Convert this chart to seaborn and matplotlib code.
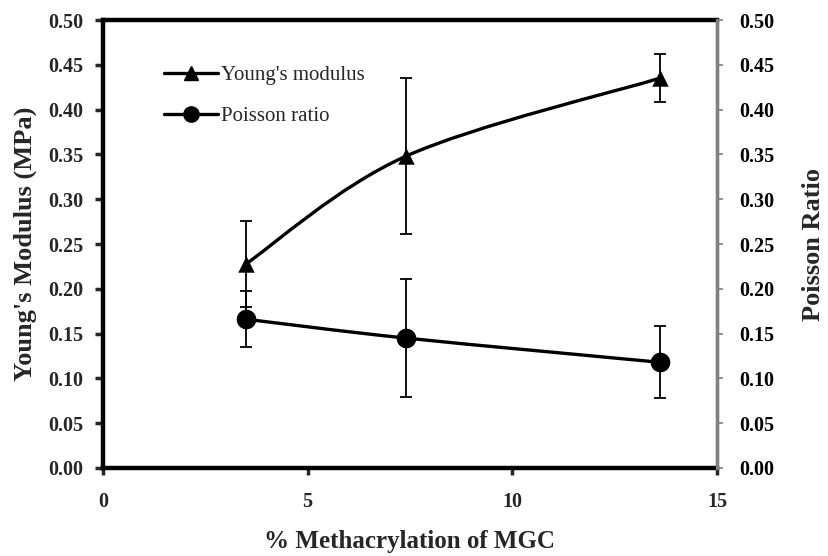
import numpy as np
import matplotlib
matplotlib.use("Agg")
import matplotlib.pyplot as plt
from matplotlib.path import Path
from matplotlib.patches import PathPatch
from matplotlib.lines import Line2D
import seaborn as sns

# Degree of methacrylation (%) and measured properties
methacrylation = [3.5, 7.4, 13.6]
youngs_modulus = [0.228, 0.348, 0.435]
youngs_err = [0.048, 0.087, 0.027]
poisson_ratio = [0.166, 0.145, 0.118]
poisson_err = [0.031, 0.066, 0.040]

x_ticks = [0, 5, 10, 15]
y_ticks = [0.00, 0.05, 0.10, 0.15, 0.20, 0.25, 0.30, 0.35, 0.40, 0.45, 0.50]

sns.set_style("white")
plt.rcParams["font.family"] = ["Liberation Serif", "DejaVu Serif"]

fig = plt.figure(figsize=(8.29, 5.56), dpi=100)
ax = fig.add_axes([0.1242, 0.1583, 0.7407, 0.8057])


def smooth_path(xs, ys):
    """Catmull-Rom style cubic Bezier through the given points."""
    pts = np.column_stack([xs, ys]).astype(float)
    n = len(pts)
    verts = [pts[0]]
    codes = [Path.MOVETO]
    for i in range(n - 1):
        p0 = pts[i - 1] if i > 0 else pts[i]
        p1 = pts[i]
        p2 = pts[i + 1]
        p3 = pts[i + 2] if i + 2 < n else pts[i + 1]
        c1 = p1 + (p2 - p0) / 6.0
        c2 = p2 - (p3 - p1) / 6.0
        verts += [c1, c2, p2]
        codes += [Path.CURVE4] * 3
    return Path(verts, codes)


for ys, errs, mk, ms in [(youngs_modulus, youngs_err, "^", 140),
                         (poisson_ratio, poisson_err, "o", 200)]:
    ax.add_patch(PathPatch(smooth_path(methacrylation, ys), fill=False,
                           edgecolor="black", lw=2.4, zorder=2))
    ax.errorbar(methacrylation, ys, yerr=errs, fmt="none", ecolor="black",
                elinewidth=1.3, capsize=4.6, capthick=1.3, zorder=3)
    sns.scatterplot(x=methacrylation, y=ys, marker=mk, s=ms, color="black",
                    edgecolor="black", linewidth=0, ax=ax, zorder=4)

tick_font = dict(fontsize=14.5, fontweight="bold")
label_font = dict(fontsize=18, fontweight="bold")

ax.set_xlim(0, 15)
ax.set_ylim(0, 0.5)
ax.set_xticks(x_ticks)
ax.set_xticklabels([str(t) for t in x_ticks], **tick_font)
ax.set_yticks(y_ticks)
ax.set_yticklabels([f"{t:.2f}" for t in y_ticks], **tick_font)
ax.tick_params(axis="x", direction="out", length=5, width=2.5, pad=12, bottom=True)
ax.tick_params(axis="y", direction="out", length=6, width=2.5, pad=8, left=True)

for side in ["left", "bottom", "top"]:
    ax.spines[side].set_color("black")
    ax.spines[side].set_linewidth(3.2)
ax.spines["right"].set_color("#808080")
ax.spines["right"].set_linewidth(2.4)

ax.set_xlabel("% Methacrylation of MGC", labelpad=13, **label_font)
ax.set_ylabel("Young's Modulus (MPa)", labelpad=8, fontsize=19, fontweight="bold")

# Secondary axis for the Poisson ratio scale
ax2 = ax.twinx()
ax2.set_ylim(0, 0.5)
ax2.set_yticks(y_ticks)
ax2.set_yticklabels([f"{t:.2f}" for t in y_ticks], **tick_font)
ax2.tick_params(axis="y", direction="out", length=4, width=1.2, colors="#808080",
                labelcolor="black", pad=12, right=True)
for side in ["left", "bottom", "top"]:
    ax2.spines[side].set_visible(False)
ax2.spines["right"].set_color("#808080")
ax2.spines["right"].set_linewidth(2.4)
ax2.set_ylabel("Poisson Ratio", labelpad=20, fontsize=19, fontweight="bold")

handles = [
    Line2D([], [], color="black", lw=2.4, marker="^", markersize=10, label="Young's modulus"),
    Line2D([], [], color="black", lw=2.4, marker="o", markersize=11, label="Poisson ratio"),
]
leg = ax.legend(handles=handles, loc="upper left", bbox_to_anchor=(0.072, 0.935),
                frameon=False, fontsize=15, handlelength=2.6, handletextpad=0.15,
                labelspacing=1.0, borderpad=0.3)

fig.savefig("out.png", dpi=100)
